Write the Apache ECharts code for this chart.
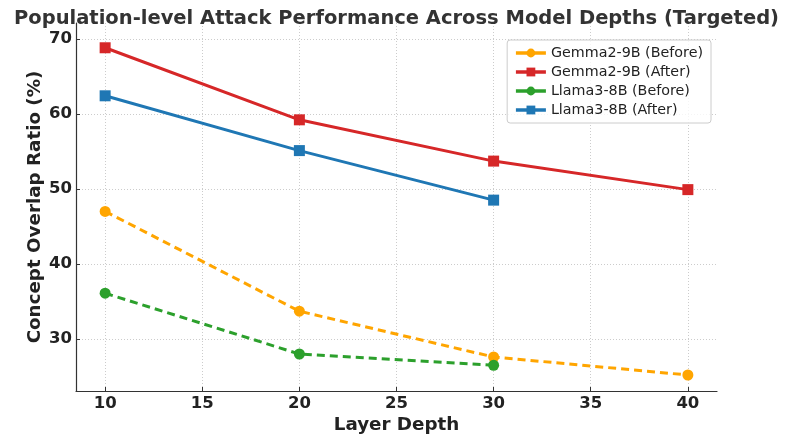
<!DOCTYPE html>
<html><head><meta charset="utf-8">
<script src="https://cdn.jsdelivr.net/npm/echarts@6/dist/echarts.min.js"></script>
<style>html,body{margin:0;padding:0;background:#fff}#c{width:793px;height:444px}</style>
</head><body><div id="c"></div>
<script>
const layers = [10, 20, 30, 40];
const gemmaBefore = [47.0, 33.7, 27.6, 25.2];
const gemmaAfter = [68.8, 59.2, 53.7, 49.9];
const llamaBefore = [36.1, 28.0, 26.5];
const llamaAfter = [62.4, 55.1, 48.5];
const xTicks = [10, 15, 20, 25, 30, 35, 40];
const yTicks = [30, 40, 50, 60, 70];
const names = ['Gemma2-9B (Before)', 'Gemma2-9B (After)', 'Llama3-8B (Before)', 'Llama3-8B (After)'];

const font = 'DejaVu Sans';
function pairs(vals){ return vals.map((v,i)=>[layers[i], v]); }
function mk(name, vals, color, dashed, symbol){
  return {
    name, type:'line', data: pairs(vals), color,
    symbol, symbolSize: 11,
    lineStyle:{width:3, color, type: dashed?[8,5]:'solid'},
    itemStyle:{color},
    emphasis:{disabled:true}, z: 3
  };
}
const chart = echarts.init(document.getElementById('c'), null, {renderer:'canvas'});
chart.setOption({
  animation:false,
  backgroundColor:'#fff',
  title:{text:'Population-level Attack Performance Across Model Depths (Targeted)', left:'center', top:4,
    textStyle:{fontFamily:font, fontWeight:'bold', fontSize:19.5, color:'#333'}},
  grid:{left:76, right:76, top:23, bottom:53},
  legend:{
    orient:'vertical', right:82, top:40, itemWidth:30, itemHeight:11, itemGap:5,
    backgroundColor:'rgba(255,255,255,0.8)', borderColor:'#ccc', borderWidth:1, borderRadius:3,
    padding:[6,8,6,7],
    lineStyle:{type:'solid', width:3.5},
    textStyle:{fontFamily:font, fontSize:14.3, color:'#222'},
    data: names
  },
  xAxis:{
    type:'value', min:8.5, max:41.5,
    name:'Layer Depth', nameLocation:'middle', nameGap:25, nameMoveOverlap:false,
    nameTextStyle:{fontFamily:font, fontWeight:'bold', fontSize:18.3, color:'#222'},
    axisLine:{show:true, lineStyle:{color:'#333', width:1.2}},
    axisTick:{show:true, inside:true, length:4, customValues:xTicks, lineStyle:{color:'#333'}},
    axisLabel:{customValues:xTicks, fontFamily:font, fontWeight:'bold', fontSize:16.5, color:'#222', margin:4},
    splitLine:{show:true, lineStyle:{color:'#ccc', type:[1,2], width:1}}
  },
  yAxis:{
    type:'value', min:23.07, max:72.1,
    name:'Concept Overlap Ratio (%)', nameLocation:'middle', nameGap:32, nameMoveOverlap:false,
    nameTextStyle:{fontFamily:font, fontWeight:'bold', fontSize:18.3, color:'#222'},
    axisLine:{show:true, lineStyle:{color:'#333', width:1.2}},
    axisTick:{show:true, inside:true, length:4, customValues:yTicks, lineStyle:{color:'#333'}},
    axisLabel:{customValues:yTicks, fontFamily:font, fontWeight:'bold', fontSize:16.5, color:'#222', margin:4},
    splitLine:{show:true, lineStyle:{color:'#ccc', type:[1,2], width:1}}
  },
  series:[
    mk(names[0], gemmaBefore, '#FFA500', true, 'circle'),
    mk(names[1], gemmaAfter, '#D62728', false, 'rect'),
    mk(names[2], llamaBefore, '#2CA02C', true, 'circle'),
    mk(names[3], llamaAfter, '#1F77B4', false, 'rect')
  ]
});
</script></body></html>
